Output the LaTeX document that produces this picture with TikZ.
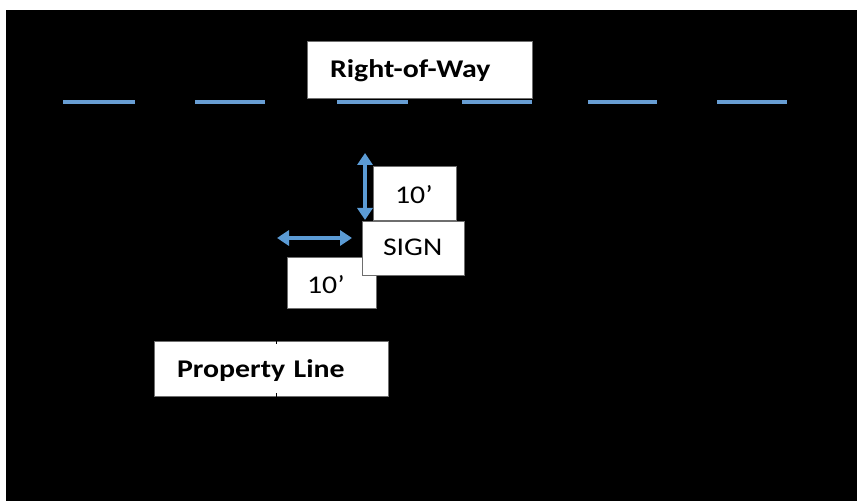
\documentclass[tikz,border=0pt]{standalone}
\usepackage{fontspec}
\setmainfont[FakeStretch=1.17]{Carlito}
\usetikzlibrary{arrows.meta}
\definecolor{rowblue}{RGB}{104,158,212}
\definecolor{arrowblue}{RGB}{91,155,213}
\definecolor{boxedge}{RGB}{110,110,110}
\tikzset{
  tagbox/.style={draw=boxedge, line width=0.8bp, fill=white, inner ysep=0pt,
    align=left, text height=16bp, text depth=0bp,
    font=\fontsize{25.5bp}{30bp}\selectfont},
  lowtext/.style={text height=22bp},
  rowdash/.style={draw=rowblue, line width=4bp},
  measure/.style={draw=arrowblue, line width=3.2bp,
    {Triangle[length=12bp,width=15bp]}-{Triangle[length=12bp,width=15bp]}}
}
\begin{document}
\begin{tikzpicture}[x=1bp,y=-1bp]
  % page and black field
  \useasboundingbox (0,0) rectangle (857,502);
  \fill[white] (0,0) rectangle (857,502);
  \fill[black] (6,10) rectangle (857,501);

  % right-of-way line as separate dashes
  \foreach \a/\b in {63/135,195/265,337/408,462/532,588/657,717/787}
    \draw[rowdash] (\a,102) -- (\b,102);

  % labels
  \node[tagbox, minimum height=57bp, inner xsep=23bp, text width=179bp]
    (row) at (419.5,69.5) {\bfseries Right-of-Way};
  \node[tagbox, lowtext, minimum height=54bp, inner xsep=22bp, text width=39bp]
    (topten) at (414.5,193) {10’};
  \node[tagbox, lowtext, minimum height=51bp, inner xsep=20bp, text width=49bp]
    (sideten) at (331.5,282.5) {10’};
  \node[tagbox, minimum height=54bp, inner xsep=21bp, text width=60bp]
    (sign) at (413,248) {SIGN};
  \node[tagbox, minimum height=55bp, inner xsep=23bp, text width=188bp,
    text height=18bp]
    (prop) at (271,368.5) {\bfseries Property Line};

  % property line marks on the label edges
  \draw[black, line width=0.8bp] (276,338) -- (276,344);
  \draw[black, line width=0.8bp] (276,393) -- (276,399);

  % setback dimensions
  \coordinate (vtop) at (365,153);
  \coordinate (vbot) at (365,220);
  \coordinate (hleft) at (277,238);
  \coordinate (hright) at (352,238);
  \draw[measure] (vtop) -- (vbot);
  \draw[measure] (hleft) -- (hright);
\end{tikzpicture}
\end{document}
